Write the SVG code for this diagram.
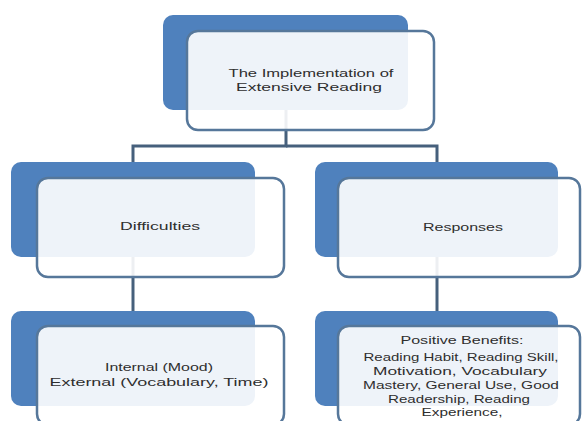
<svg xmlns="http://www.w3.org/2000/svg" width="582" height="421" viewBox="0 0 582 421">
<style>
.back{fill:#4f81bd;}
.front{fill:#ffffff;fill-opacity:0.9;stroke:#56779a;stroke-width:2.5;}
.conn{fill:none;stroke:#46607c;stroke-width:3;}
.t{font-family:"Liberation Sans",Arial,sans-serif;font-size:10.5px;fill:#2e2e2e;text-anchor:middle;}
</style>
<rect width="582" height="421" fill="#ffffff"/>
<g id="connectors">
<path class="conn" d="M286,110 V146 H133 V162"/>
<path class="conn" d="M286,146 H437 V162"/>
<path class="conn" d="M133,257 V311"/>
<path class="conn" d="M437,257 V311"/>
</g>
<g id="node-implementation">
<rect class="back" x="163" y="15" width="245" height="95" rx="10"/>
<rect class="front" x="187" y="31" width="247" height="99" rx="11"/>
<text class="t" x="311" y="77" textLength="165" lengthAdjust="spacingAndGlyphs">The Implementation of</text>
<text class="t" x="309" y="91" textLength="146" lengthAdjust="spacingAndGlyphs">Extensive Reading</text>
</g>
<g id="node-difficulties">
<rect class="back" x="11" y="162" width="244" height="95" rx="10"/>
<rect class="front" x="37" y="178" width="247" height="99" rx="11"/>
<text class="t" x="160" y="230" textLength="80" lengthAdjust="spacingAndGlyphs">Difficulties</text>
</g>
<g id="node-responses">
<rect class="back" x="315" y="162" width="243" height="95" rx="10"/>
<rect class="front" x="338" y="178" width="242" height="99" rx="11"/>
<text class="t" x="463" y="231" textLength="80" lengthAdjust="spacingAndGlyphs">Responses</text>
</g>
<g id="node-internal-external">
<rect class="back" x="11" y="311" width="244" height="95" rx="10"/>
<rect class="front" x="37" y="326" width="247" height="99" rx="11"/>
<text class="t" x="159" y="371" textLength="108" lengthAdjust="spacingAndGlyphs">Internal (Mood)</text>
<text class="t" x="159" y="386" textLength="219" lengthAdjust="spacingAndGlyphs">External (Vocabulary, Time)</text>
</g>
<g id="node-positive-benefits">
<rect class="back" x="315" y="311" width="243" height="95" rx="10"/>
<rect class="front" x="338" y="326" width="242" height="99" rx="11"/>
<text class="t" x="462" y="344" textLength="123" lengthAdjust="spacingAndGlyphs">Positive Benefits:</text>
<text class="t" x="461" y="361" textLength="195" lengthAdjust="spacingAndGlyphs">Reading Habit, Reading Skill,</text>
<text class="t" x="460" y="375" textLength="174" lengthAdjust="spacingAndGlyphs">Motivation, Vocabulary</text>
<text class="t" x="461" y="389" textLength="196" lengthAdjust="spacingAndGlyphs">Mastery, General Use, Good</text>
<text class="t" x="459" y="403" textLength="142" lengthAdjust="spacingAndGlyphs">Readership, Reading</text>
<text class="t" x="462" y="416" textLength="81" lengthAdjust="spacingAndGlyphs">Experience,</text>
</g>
</svg>
